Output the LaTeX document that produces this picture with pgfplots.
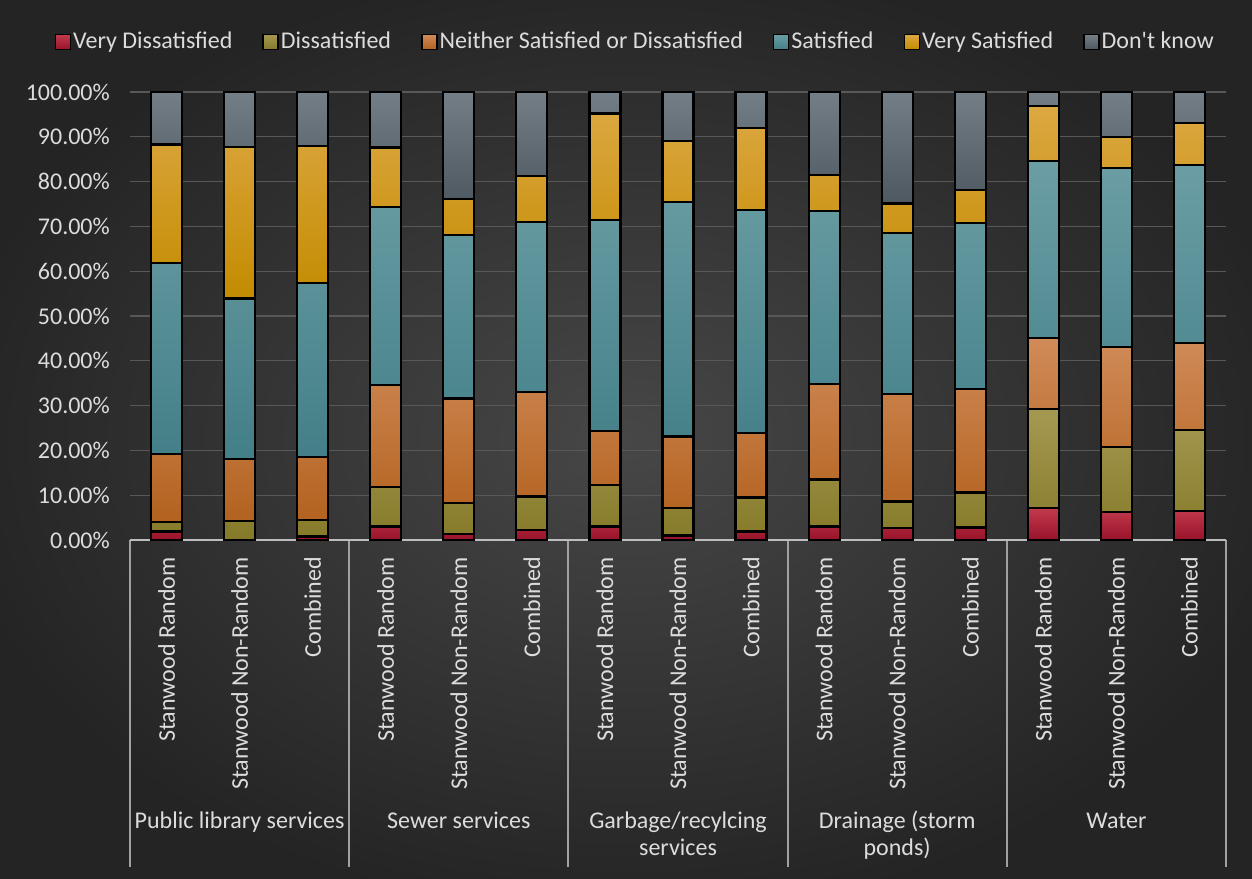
\documentclass[border=0pt]{standalone}
\usepackage{pgfplots}
\pgfplotsset{compat=1.18}
\usepackage{pgfplotstable}
\usepackage{fontspec}
\setmainfont{Carlito}
\definecolor{txt}{HTML}{DCDCDC}
\definecolor{gridc}{HTML}{585858}
\definecolor{axisc}{HTML}{BDBDBD}
\definecolor{bgin}{HTML}{474747}
\definecolor{bgout}{HTML}{242424}
\definecolor{vdT}{HTML}{C23A4C}\definecolor{vdB}{HTML}{98122A}
\definecolor{dT}{HTML}{A59852}\definecolor{dB}{HTML}{857A28}
\definecolor{nT}{HTML}{D08B58}\definecolor{nB}{HTML}{B3621F}
\definecolor{sT}{HTML}{6B9EA4}\definecolor{sB}{HTML}{437F88}
\definecolor{vsT}{HTML}{DCA842}\definecolor{vsB}{HTML}{C38B00}
\definecolor{dkT}{HTML}{747E87}\definecolor{dkB}{HTML}{4E5861}
\pgfplotstableread{
x  VD   D    N    S    VS   DK
0  1.9  2.2  15.1 42.6 26.5 11.7
1  0.0  4.3  13.7 35.9 33.9 12.2
2  0.8  3.6  14.2 38.8 30.5 12.1
3  3.0  8.9  22.7 39.7 13.3 12.4
4  1.3  6.9  23.4 36.5 8.0  23.9
5  2.2  7.5  23.3 37.9 10.3 18.8
6  3.0  9.3  12.1 47.0 23.8 4.8
7  1.0  6.1  16.0 52.4 13.6 10.9
8  1.9  7.6  14.3 49.9 18.2 8.1
9  3.0  10.5 21.3 38.6 8.1  18.5
10 2.6  6.0  23.9 36.0 6.6  24.9
11 2.8  7.8  23.1 37.1 7.3  21.9
12 7.1  22.1 15.8 39.6 12.3 3.1
13 6.2  14.6 22.2 40.0 7.0  10.0
14 6.5  18.1 19.3 39.8 9.4  6.9
}\datatable
\begin{document}
\fontsize{24bp}{28bp}\selectfont
\begin{tikzpicture}
\useasboundingbox (0,0) rectangle (1252bp,879bp);
\shade[inner color=bgin, outer color=bgout] (-60bp,-40bp) rectangle (1312bp,919bp);
\begin{axis}[
  at={(130bp,339bp)}, anchor=south west,
  scale only axis, width=1096bp, height=448bp,
  ybar stacked, bar width=31bp,
  xmin=-0.5, xmax=14.5, ymin=0, ymax=100,
  xtick=data,
  xticklabels={Stanwood Random,Stanwood Non-Random,Combined,Stanwood Random,Stanwood Non-Random,Combined,Stanwood Random,Stanwood Non-Random,Combined,Stanwood Random,Stanwood Non-Random,Combined,Stanwood Random,Stanwood Non-Random,Combined},
  xticklabel style={rotate=90, anchor=east, text=txt, xshift=-9bp},
  ytick={0,10,...,100},
  yticklabel={\pgfmathprintnumber[fixed,fixed zerofill,precision=2]{\tick}\%},
  /pgf/number format/assume math mode=true,
  yticklabel style={text=txt, xshift=-12bp},
  major tick length=0pt,
  axis line style={draw=none},
  ymajorgrids, grid style={draw=gridc, line width=1.2bp},
  clip=false,
  every axis plot/.append style={draw=black, line width=2.2bp},
  legend columns=6,
  legend style={at={(0.461,1)}, anchor=center, yshift=50bp, draw=none, fill=none, text=txt,
    /tikz/every even column/.append style={column sep=28bp}, inner sep=0pt},
  legend image code/.code={\draw[#1, line width=1.5bp, draw=black] (0bp,-7.5bp) rectangle (15bp,7.5bp);},
]
\addplot[top color=vdT, bottom color=vdB] table[x=x,y=VD]{\datatable};
\addplot[top color=dT, bottom color=dB] table[x=x,y=D]{\datatable};
\addplot[top color=nT, bottom color=nB] table[x=x,y=N]{\datatable};
\addplot[top color=sT, bottom color=sB] table[x=x,y=S]{\datatable};
\addplot[top color=vsT, bottom color=vsB] table[x=x,y=VS]{\datatable};
\addplot[top color=dkT, bottom color=dkB] table[x=x,y=DK]{\datatable};
\legend{Very Dissatisfied,Dissatisfied,Neither Satisfied or Dissatisfied,Satisfied,Very Satisfied,Don\textquotesingle t know}
\draw[axisc, line width=2bp] (axis cs:-0.5,0) -- (axis cs:14.5,0);
\draw[axisc!85!black, line width=2bp] (axis cs:-0.5,0) -- (axis cs:-0.5,-73)
  (axis cs:2.5,0) -- (axis cs:2.5,-73)
  (axis cs:5.5,0) -- (axis cs:5.5,-73)
  (axis cs:8.5,0) -- (axis cs:8.5,-73)
  (axis cs:11.5,0) -- (axis cs:11.5,-73)
  (axis cs:14.5,0) -- (axis cs:14.5,-73);
\path[text=txt] (axis cs:1,-64.3) node[anchor=base]{Public library services}
  (axis cs:4,-64.3) node[anchor=base]{Sewer services}
  (axis cs:7,-64.3) node[anchor=base]{Garbage/recylcing}
  (axis cs:7,-70.5) node[anchor=base]{services}
  (axis cs:10,-64.3) node[anchor=base]{Drainage (storm}
  (axis cs:10,-70.5) node[anchor=base]{ponds)}
  (axis cs:13,-64.3) node[anchor=base]{Water};
\end{axis}
\end{tikzpicture}
\end{document}
